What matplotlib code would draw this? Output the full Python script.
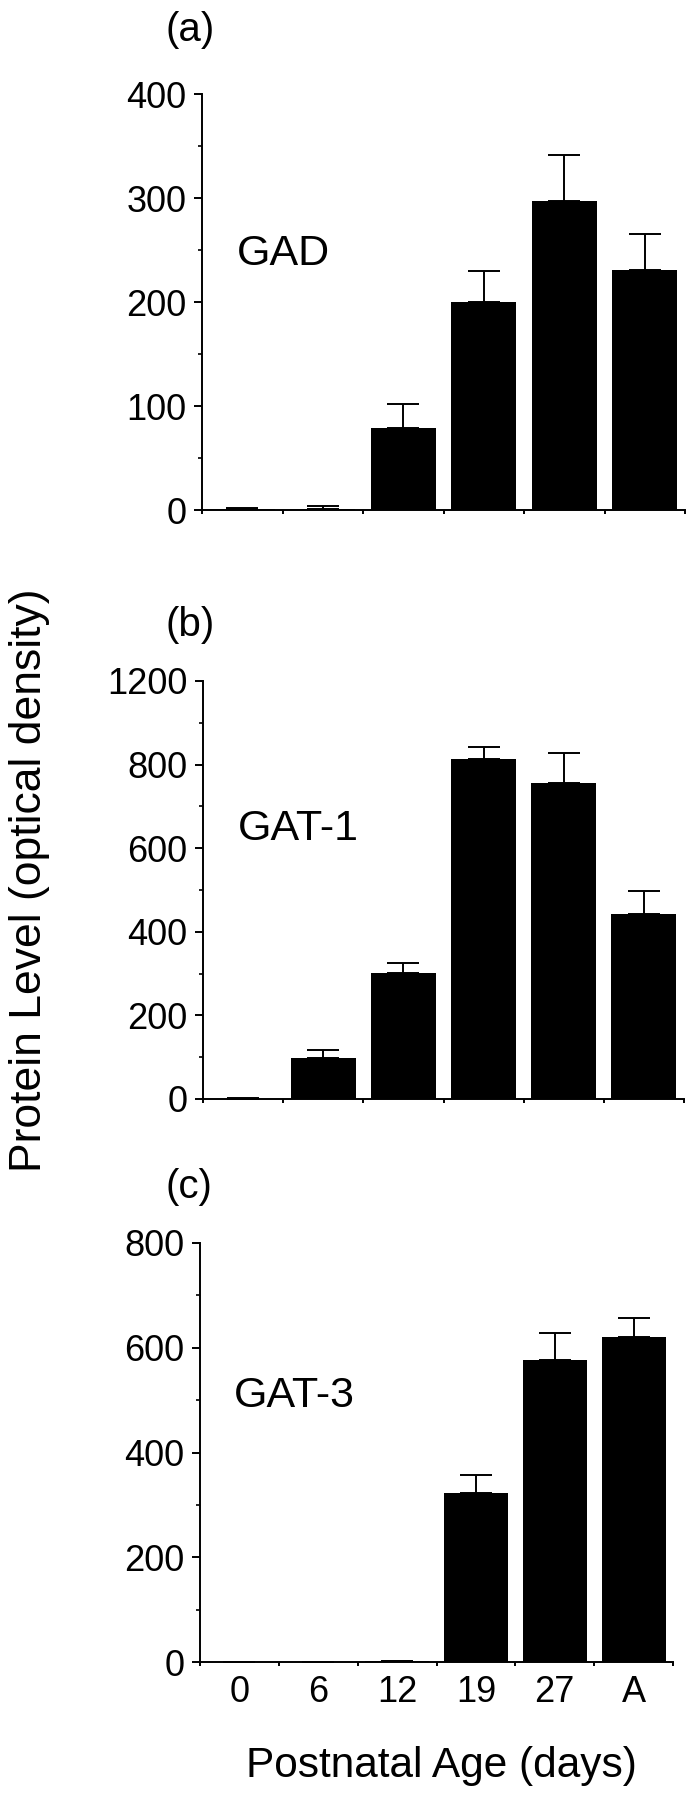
import numpy as np
import matplotlib
matplotlib.use('Agg')
import matplotlib.pyplot as plt
from matplotlib.ticker import MultipleLocator

plt.rcParams['font.family'] = ['Liberation Sans', 'DejaVu Sans']

# postnatal age groups
ages = ['0', '6', '12', '19', '27', 'A']

# protein levels (optical density) and upper error bars
gad = [0.5, 1, 79, 200, 297, 231]
gad_err = [1, 3, 23, 30, 44, 34]
gat1 = [1, 97, 302, 814, 755, 442]
gat1_err = [2, 20, 24, 27, 73, 55]
gat3 = [0, 0, 1, 322, 576, 620]
gat3_err = [0, 0, 1, 35, 52, 37]

# y tick labels as printed (the top label of panel b reads 1200)
gad_ticks = ['0', '100', '200', '300', '400']
gat1_ticks = ['0', '200', '400', '600', '800', '1200']
gat3_ticks = ['0', '200', '400', '600', '800']

W, H = 692, 1800
fig = plt.figure(figsize=(W / 100, H / 100), dpi=100)


def box(l, r, top, bot):
    return [l / W, 1 - bot / H, (r - l) / W, (bot - top) / H]


def panel(rect, vals, errs, step, ticklabels, name, name_y, letter, letter_y, last=False):
    ax = fig.add_axes(rect)
    x = np.arange(len(ages))
    ax.bar(x, vals, width=0.81, color='black', zorder=2)
    ax.errorbar(x, vals, yerr=[np.zeros(len(errs)), errs], fmt='none', ecolor='black',
                elinewidth=1.4, capsize=11.5, capthick=1.4, zorder=3)
    ymax = step * (len(ticklabels) - 1)
    ax.set_ylim(0, ymax)
    ax.set_xlim(-0.5, len(ages) - 0.5)
    ax.set_yticks(np.arange(0, ymax + 1, step))
    ax.set_yticklabels(ticklabels)
    ax.yaxis.set_minor_locator(MultipleLocator(step / 2))
    ax.set_xticks(np.arange(-0.5, len(ages), 1.0))
    ax.set_xticklabels([])
    if last:
        ax.set_xticks(x, minor=True)
        ax.set_xticklabels(ages, minor=True)
    for s in ['top', 'right']:
        ax.spines[s].set_visible(False)
    for s in ['left', 'bottom']:
        ax.spines[s].set_linewidth(1.4)
    ax.tick_params(axis='y', which='major', direction='out', length=6, width=1.4,
                   labelsize=26, pad=5)
    ax.tick_params(axis='y', which='minor', direction='out', length=3, width=1.2)
    ax.tick_params(axis='x', which='major', direction='out', length=3, width=1.4)
    ax.tick_params(axis='x', which='minor', length=0, labelsize=26, pad=9)
    ax.text(0.072, name_y, name, transform=ax.transAxes, fontsize=31,
            ha='left', va='center')
    fig.text(165 / W, 1 - letter_y / H, letter, fontsize=29, ha='left', va='center')
    return ax


panel(box(202, 685, 94, 510), gad, gad_err, 100, gad_ticks, 'GAD', 0.615, '(a)', 30)
panel(box(203, 684, 681, 1099), gat1, gat1_err, 200, gat1_ticks, 'GAT-1', 0.646, '(b)', 625)
panel(box(200, 673, 1243, 1662), gat3, gat3_err, 200, gat3_ticks, 'GAT-3', 0.635, '(c)', 1187,
      last=True)

fig.text(441 / W, 1 - 1777 / H, 'Postnatal Age (days)', fontsize=30.5, ha='center', va='baseline')
fig.text(30 / W, 1 - 880 / H, 'Protein Level (optical density)', fontsize=32,
         rotation=90, ha='center', va='center')

fig.savefig('out.png', dpi=100)
